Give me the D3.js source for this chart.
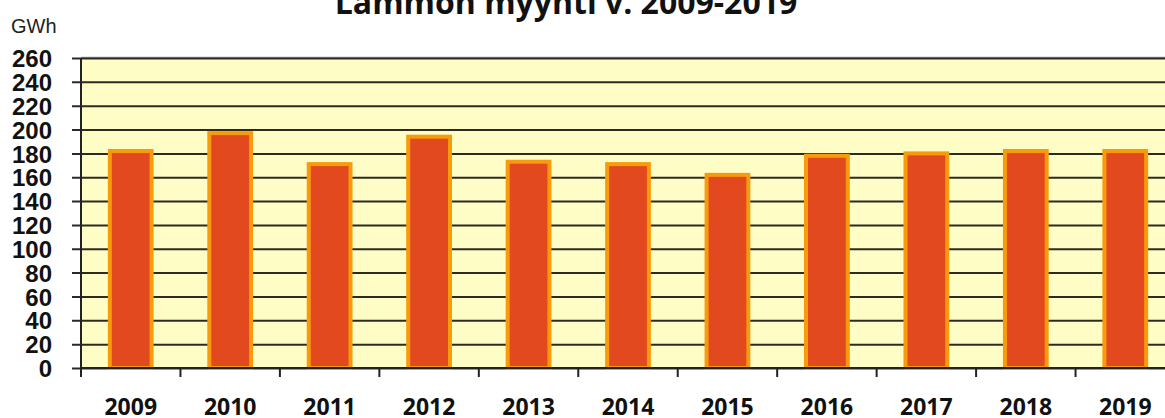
<!DOCTYPE html>
<html>
<head>
<meta charset="utf-8">
<script src="https://cdn.jsdelivr.net/npm/d3@7"></script>
<style>
  body { margin: 0; background: #fff; }
  svg { display: block; }
</style>
</head>
<body>
<div id="chart"></div>
<script>
// data
var years = ["2009", "2010", "2011", "2012", "2013", "2014", "2015", "2016", "2017", "2018", "2019"],
    sales = [182, 197, 171, 194, 173, 171, 162, 178, 180, 182, 182],
    yTicks = [0, 20, 40, 60, 80, 100, 120, 140, 160, 180, 200, 220, 240, 260];

var width = 1165, height = 418,
    margin = {top: 58, left: 81, bottom: 50},
    plotRight = 1175,
    zeroY = height - margin.bottom;

var svg = d3.select("#chart").append("svg")
    .attr("width", width)
    .attr("height", height);

var x = d3.scaleBand()
    .domain(years)
    .range([margin.left, plotRight])
    .paddingInner(0)
    .paddingOuter(0);

var y = d3.scaleLinear()
    .domain([0, 260])
    .range([zeroY, margin.top]);

// plot background
svg.append("rect")
    .attr("x", margin.left)
    .attr("y", y(260))
    .attr("width", plotRight - margin.left)
    .attr("height", y(0) - y(260))
    .style("fill", "#fefdc6");

svg.append("line")
    .attr("x1", margin.left).attr("x2", plotRight)
    .attr("y1", y(260) - 0.5).attr("y2", y(260) - 0.5)
    .style("stroke", "#9a9a9a").style("stroke-width", 1.5);

// y axis with grid lines
var yAxis = svg.append("g")
    .attr("transform", "translate(" + margin.left + ",0)")
    .call(d3.axisLeft(y).tickValues(yTicks).tickSize(9).tickPadding(20));

yAxis.select(".domain").remove();
yAxis.selectAll(".tick line")
    .attr("x2", plotRight - margin.left)
    .attr("x1", -9)
    .style("stroke", "#2b2b22")
    .style("stroke-width", 2);
yAxis.selectAll(".tick text")
    .style("font-family", "'Liberation Sans', Arial, sans-serif")
    .style("font-weight", "bold")
    .style("font-size", "24px")
    .style("fill", "#111")
    .attr("dy", "0.36em");

// bars
svg.selectAll(".bar")
    .data(years)
  .enter().append("rect")
    .attr("class", "bar")
    .attr("x", function(d) { return x(d) + x.bandwidth() * 0.29; })
    .attr("width", x.bandwidth() * 0.42)
    .attr("y", function(d, i) { return y(sales[i]); })
    .attr("height", function(d, i) { return y(0) - y(sales[i]); })
    .style("fill", "#e2491e")
    .style("stroke", "#f79b0c")
    .style("stroke-width", 4);

// x axis
var xAxis = svg.append("g")
    .attr("transform", "translate(0," + zeroY + ")")
    .call(d3.axisBottom(x).tickSize(0).tickPadding(0));

xAxis.select(".domain").remove();
xAxis.selectAll(".tick text")
    .attr("y", 47)
    .attr("dy", null)
    .style("font-family", "'Open Sans', sans-serif")
    .style("font-weight", "bold")
    .style("font-size", "23px")
    .style("fill", "#111");

// category separators below axis
svg.selectAll(".xsep")
    .data(years)
  .enter().append("line")
    .attr("class", "xsep")
    .attr("x1", function(d) { return x(d); })
    .attr("x2", function(d) { return x(d); })
    .attr("y1", zeroY)
    .attr("y2", zeroY + 9)
    .style("stroke", "#222")
    .style("stroke-width", 2);

// axis lines
svg.append("line")
    .attr("x1", margin.left).attr("x2", plotRight)
    .attr("y1", zeroY).attr("y2", zeroY)
    .style("stroke", "#222").style("stroke-width", 2);
svg.append("line")
    .attr("x1", margin.left).attr("x2", margin.left)
    .attr("y1", y(260)).attr("y2", zeroY + 9)
    .style("stroke", "#222").style("stroke-width", 2);

// unit and title
svg.append("text")
    .attr("x", 11)
    .attr("y", 33)
    .style("font-family", "'Liberation Sans', Arial, sans-serif")
    .style("font-size", "20px")
    .style("fill", "#222")
    .text("GWh");

svg.append("text")
    .attr("x", 566)
    .attr("y", 14)
    .style("text-anchor", "middle")
    .style("font-family", "'Open Sans', sans-serif")
    .style("font-weight", "bold")
    .style("font-size", "32px")
    .style("fill", "#111")
    .text("Lämmön myynti v. 2009-2019");
</script>
</body>
</html>
